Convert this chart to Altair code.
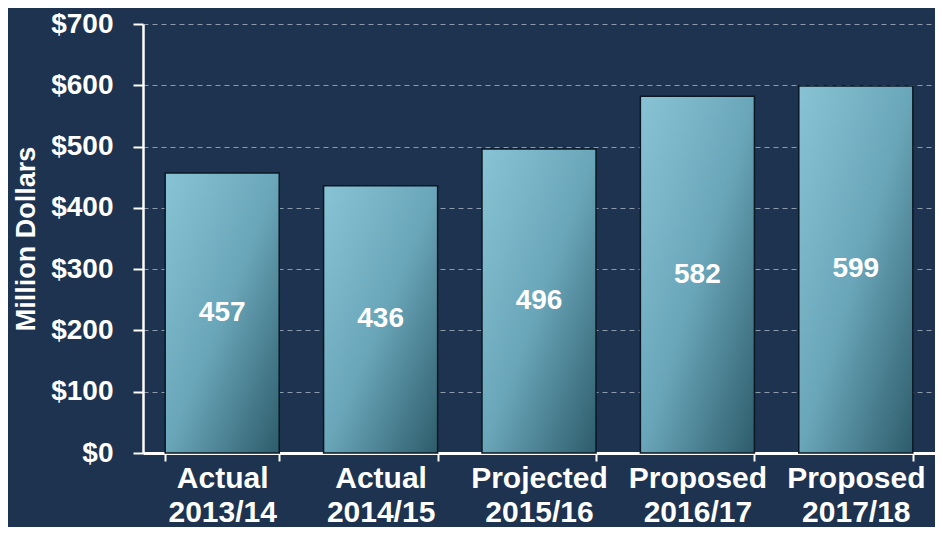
import altair as alt
import pandas as pd

categories = ["Actual 2013/14", "Actual 2014/15", "Projected 2015/16", "Proposed 2016/17", "Proposed 2017/18"]
values = [457, 436, 496, 582, 599]

df = pd.DataFrame({"cat": categories, "val": values})

FONT = "Liberation Sans"

x_enc = alt.X(
    "cat:N",
    sort=categories,
    title=None,
    scale=alt.Scale(paddingInner=0.28, paddingOuter=0.14),
    axis=alt.Axis(
        labelExpr="split(datum.label, ' ')",
        labelAngle=0,
        labelFont=FONT,
        labelFontSize=30,
        labelFontWeight="bold",
        labelColor="white",
        labelLineHeight=34,
        labelPadding=2,
        domainColor="white",
        domainWidth=3,
        tickColor="white",
        tickWidth=2,
        tickSize=8,
        tickBand="extent",
        grid=False,
    ),
)

bars = alt.Chart(df).mark_bar(
    stroke="#0b1824",
    strokeWidth=1.5,
    color=alt.Gradient(
        gradient="linear",
        stops=[
            alt.GradientStop(color="#88c3d5", offset=0),
            alt.GradientStop(color="#6aa6b9", offset=0.5),
            alt.GradientStop(color="#2d5c6b", offset=1),
        ],
        x1=0, y1=0, x2=1, y2=1,
    ),
).encode(
    x=x_enc,
    y=alt.Y(
        "val:Q",
        title="Million Dollars",
        scale=alt.Scale(domain=[0, 700], nice=False),
        axis=alt.Axis(
            values=[0, 100, 200, 300, 400, 500, 600, 700],
            labelExpr="'$' + datum.value",
            labelFont=FONT,
            labelFontSize=28,
            labelFontWeight="bold",
            labelColor="white",
            labelPadding=20,
            titleFont=FONT,
            titleFontSize=27,
            titleFontWeight="bold",
            titleColor="white",
            titlePadding=10,
            domainColor="white",
            domainWidth=2.5,
            tickColor="white",
            tickWidth=2,
            tickSize=10,
            grid=True,
            gridColor="#a9b6c4",
            gridDash=[5, 4],
            gridWidth=1,
            gridOpacity=0.8,
        ),
    ),
)

labels = alt.Chart(df).transform_calculate(
    mid="datum.val / 2"
).mark_text(
    font=FONT,
    fontSize=28,
    fontWeight="bold",
    color="white",
    baseline="middle",
).encode(
    x=alt.X("cat:N", sort=categories),
    y=alt.Y("mid:Q"),
    text=alt.Text("val:Q"),
)

chart = alt.layer(bars, labels).properties(
    width=792,
    height=429,
    background="#1d3350",
    padding={"left": 4, "top": 2, "right": 0, "bottom": 0},
).configure_view(stroke=None)

chart.save("out.html", embed_options={"renderer": "svg", "actions": False})
